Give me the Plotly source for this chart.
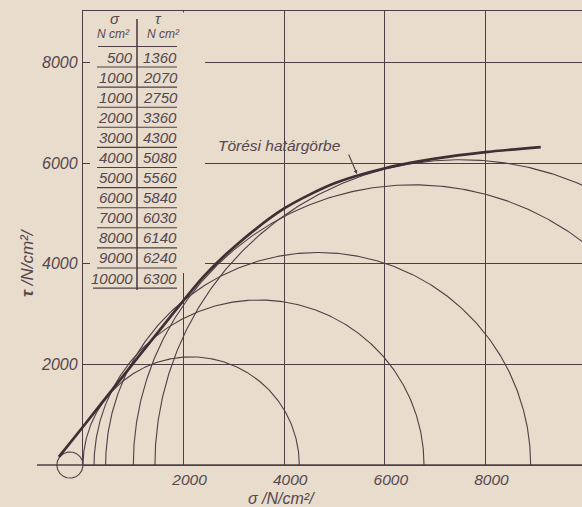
import numpy as np
import plotly.graph_objects as go

# ---- data -------------------------------------------------------------
# failure envelope (Törési határgörbe), sigma / tau in N/cm^2
env_sigma = [-480, 0, 600, 1700, 2400, 3000, 4000, 5000, 6000, 7000, 8000, 9100]
env_tau = [160, 760, 1520, 2900, 3750, 4330, 5100, 5600, 5900, 6090, 6220, 6320]

# Mohr circles: minor / major principal stresses
circ_s3 = [-520, 0, 220, 450, 1000, 1430]
circ_s1 = [0, 4300, 6780, 8900, 12140, 13570]
circ_full = [True, False, False, False, False, False]

# table printed in the upper-left corner
tab_sigma = ["500", "1000", "1000", "2000", "3000", "4000", "5000",
             "6000", "7000", "8000", "9000", "10000"]
tab_tau = ["1360", "2070", "2750", "3360", "4300", "5080", "5560",
           "5840", "6030", "6140", "6240", "6300"]

x_ticks = [2000, 4000, 6000, 8000]
y_ticks = [2000, 4000, 6000, 8000]

# ---- styling ----------------------------------------------------------
W, H = 582, 507
PAPER = "#e8dccd"
INK = "#4f3f45"
TXT = "#55474d"
FONT = "Liberation Sans"

X0, Y0, TOP = 83, 465, 11      # axis origin and top frame (pixels)
K = 0.0503                     # pixels per N/cm^2 (same on both axes)


def px(x):
    return x / W


def py(y):
    return (H - y) / H


fig = go.Figure()

# keeps the gridded frame subplot alive
fig.add_trace(go.Scatter(x=[0], y=[0], xaxis="x", yaxis="y", mode="markers",
                         marker=dict(opacity=0), hoverinfo="skip",
                         showlegend=False))

# circles
for s3, s1, full in zip(circ_s3, circ_s1, circ_full):
    c, r = (s1 + s3) / 2, (s1 - s3) / 2
    t = np.linspace(0, 2 * np.pi if full else np.pi, 400)
    fig.add_trace(go.Scatter(x=c + r * np.cos(t), y=r * np.sin(t),
                             xaxis="x2", yaxis="y2", mode="lines",
                             line=dict(color=INK, width=1.1),
                             hoverinfo="skip", showlegend=False))

# horizontal sigma axis (extends left of the tau axis)
fig.add_trace(go.Scatter(x=[(37 - X0) / K, (W - X0) / K], y=[0, 0],
                         xaxis="x2", yaxis="y2", mode="lines",
                         line=dict(color=INK, width=1.6),
                         hoverinfo="skip", showlegend=False))

# failure envelope
fig.add_trace(go.Scatter(x=env_sigma, y=env_tau, xaxis="x2", yaxis="y2",
                         mode="lines",
                         line=dict(color="#3f2f35", width=2.7,
                                   shape="spline", smoothing=0.8),
                         hoverinfo="skip", showlegend=False))

# ---- axes -------------------------------------------------------------
fig.update_layout(
    width=W, height=H,
    margin=dict(l=0, r=0, t=0, b=0),
    paper_bgcolor=PAPER, plot_bgcolor="rgba(0,0,0,0)",
    xaxis=dict(domain=[X0 / W, 1], range=[0, (W - X0) / K], anchor="y",
               tickvals=x_ticks, ticktext=[str(v) for v in x_ticks],
               showgrid=True, gridcolor=INK, gridwidth=1,
               zeroline=False, showline=True, mirror=True,
               linecolor=INK, linewidth=1.4, ticks="",
               ticklabelstandoff=0, ticklabelshift=6,
               tickfont=dict(family=FONT, size=15.5, color=TXT,
                             style="italic")),
    yaxis=dict(domain=[py(Y0), py(TOP)], range=[0, (Y0 - TOP) / K],
               anchor="x",
               tickvals=y_ticks, ticktext=[str(v) for v in y_ticks],
               showgrid=True, gridcolor=INK, gridwidth=1,
               zeroline=False, showline=True, linecolor=INK, linewidth=1.4,
               ticks="", ticklabelstandoff=1,
               tickfont=dict(family=FONT, size=16, color=TXT, style="italic")),
    xaxis2=dict(domain=[0, 1], range=[-X0 / K, (W - X0) / K], anchor="y2",
                visible=False),
    yaxis2=dict(domain=[0, 1], range=[(Y0 - H) / K, Y0 / K], anchor="x2",
                visible=False),
)

shapes = []
# table background hides the grid behind it
shapes.append(dict(type="rect", xref="paper", yref="paper", layer="above",
                   x0=px(90), x1=px(205), y0=py(273), y1=py(12.5),
                   fillcolor=PAPER, line=dict(width=0)))
# table rules
shapes.append(dict(type="line", xref="paper", yref="paper", layer="above",
                   x0=px(137), x1=px(137), y0=py(290), y1=py(19),
                   line=dict(color=INK, width=1.6)))
shapes.append(dict(type="line", xref="paper", yref="paper", layer="above",
                   x0=px(98), x1=px(177), y0=py(46.5), y1=py(46.5),
                   line=dict(color=INK, width=1.1)))
ROW0, DY = 57, 20.1
for i in range(len(tab_sigma)):
    yl = ROW0 + DY * i + 10
    shapes.append(dict(type="line", xref="paper", yref="paper",
                       layer="above",
                       x0=px(93 if i == len(tab_sigma) - 1 else 97),
                       x1=px(177), y0=py(yl), y1=py(yl),
                       line=dict(color=INK, width=1.1)))
fig.update_layout(shapes=shapes)

ann = []


def txt(x, y, s, size, xanchor="center", angle=0, **kw):
    ann.append(dict(x=px(x), y=py(y), xref="paper", yref="paper", text=s,
                    showarrow=False, xanchor=xanchor, yanchor="middle",
                    textangle=angle,
                    font=dict(family=FONT, size=size, color=TXT,
                              style="italic", **kw)))


# table header and body
txt(115, 19, "σ", 15)
txt(158, 19, "τ", 15)
txt(113, 34, "N cm²", 12)
txt(163, 34, "N cm²", 12)
for i, (s, t) in enumerate(zip(tab_sigma, tab_tau)):
    yc = ROW0 + DY * i
    txt(135, yc, s, 15, xanchor="right")
    txt(141, yc, t, 15, xanchor="left")

# envelope label with its pointer
txt(216, 145, "Törési határgörbe", 15.5, xanchor="left")
ann.append(dict(x=(357 - X0) / K, y=(Y0 - 174) / K, xref="x2", yref="y2",
                ax=-9, ay=-21, text="", showarrow=True, arrowhead=2,
                arrowsize=0.7, arrowwidth=1.1, arrowcolor=INK))

# axis titles
txt(27, 263, "<b>τ</b> /N/cm²/", 17, angle=-90)
txt(281, 498, "σ /N/cm²/", 16)

fig.update_layout(annotations=ann)

fig.write_html("out.html")
